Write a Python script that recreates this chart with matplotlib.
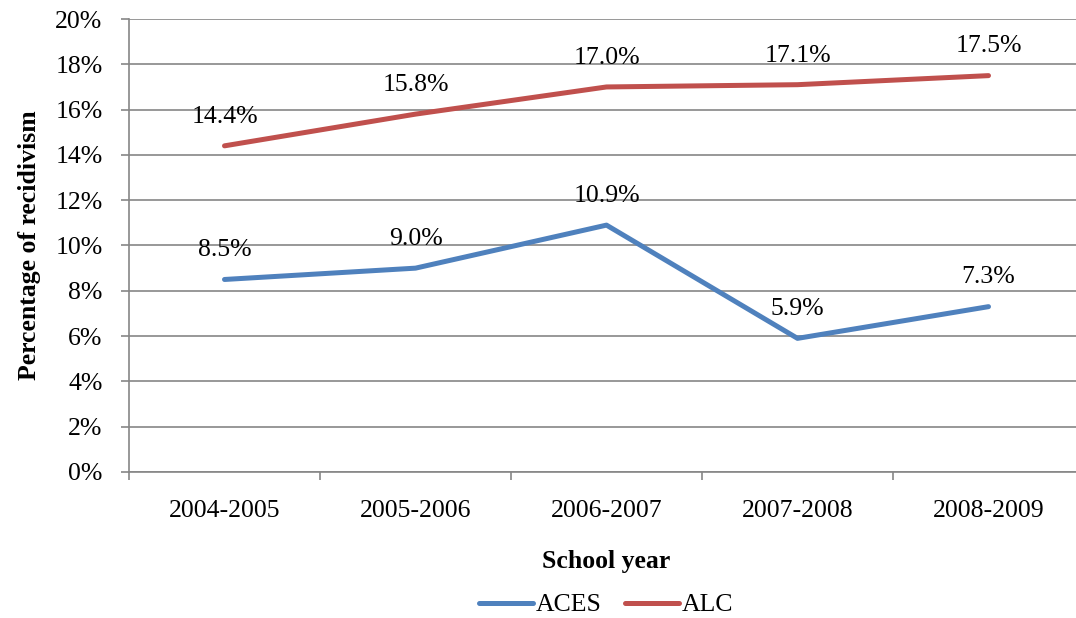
import matplotlib.pyplot as plt
import numpy as np

years = ['2004-2005', '2005-2006', '2006-2007', '2007-2008', '2008-2009']
aces = [8.5, 9.0, 10.9, 5.9, 7.3]
alc = [14.4, 15.8, 17.0, 17.1, 17.5]


def main():
    plt.rcParams['font.family'] = ['Liberation Serif', 'DejaVu Serif']
    fs = 18.5
    fig = plt.figure(figsize=(10.76, 6.18), dpi=100)
    ax = fig.add_axes([129 / 1076, 1 - 472 / 618, 955 / 1076, 453 / 618])

    x = np.arange(len(years))
    blue = '#4F81BD'
    red = '#C0504D'
    ax.plot(x, aces, color=blue, lw=3.6, solid_capstyle='round', label='ACES')
    ax.plot(x, alc, color=red, lw=3.6, solid_capstyle='round', label='ALC')
    for vals in (aces, alc):
        for xi, v in zip(x, vals):
            ax.annotate(f'{v:.1f}%', (xi, v), xytext=(0, 21), textcoords='offset points',
                        ha='center', va='center', fontsize=fs)

    ax.set_xlim(-0.5, len(years) - 0.5)
    ax.set_ylim(0, 20)
    ax.set_yticks(np.arange(0, 21, 2))
    ax.set_yticklabels([f'{v}%' for v in range(0, 21, 2)], fontsize=fs)
    ax.yaxis.grid(True, color='#868686', lw=1.2)
    ax.set_axisbelow(True)

    ax.set_xticks(np.arange(-0.5, len(years), 1))
    ax.set_xticklabels([])
    ax.set_xticks(x, minor=True)
    ax.set_xticklabels(years, minor=True, fontsize=fs)
    ax.tick_params(axis='x', which='minor', length=0, pad=20)
    ax.tick_params(axis='x', which='major', length=6, color='#868686', width=1.2)
    ax.tick_params(axis='y', length=6, color='#868686', width=1.2, pad=13)

    for s in ('top', 'right'):
        ax.spines[s].set_visible(False)
    for s in ('left', 'bottom'):
        ax.spines[s].set_color('#868686')
        ax.spines[s].set_linewidth(1.2)

    ax.set_xlabel('School year', fontsize=fs, fontweight='bold', labelpad=20)
    ax.set_ylabel('Percentage of recidivism', fontsize=fs, fontweight='bold', labelpad=10)

    fig.legend(loc='center', bbox_to_anchor=(606 / 1076, 1 - 605 / 618), ncol=2,
               frameon=False, fontsize=fs, handlelength=2.1, columnspacing=0.9,
               handletextpad=0.1)

    fig.savefig('out.png', dpi=100)


if __name__ == '__main__':
    main()
